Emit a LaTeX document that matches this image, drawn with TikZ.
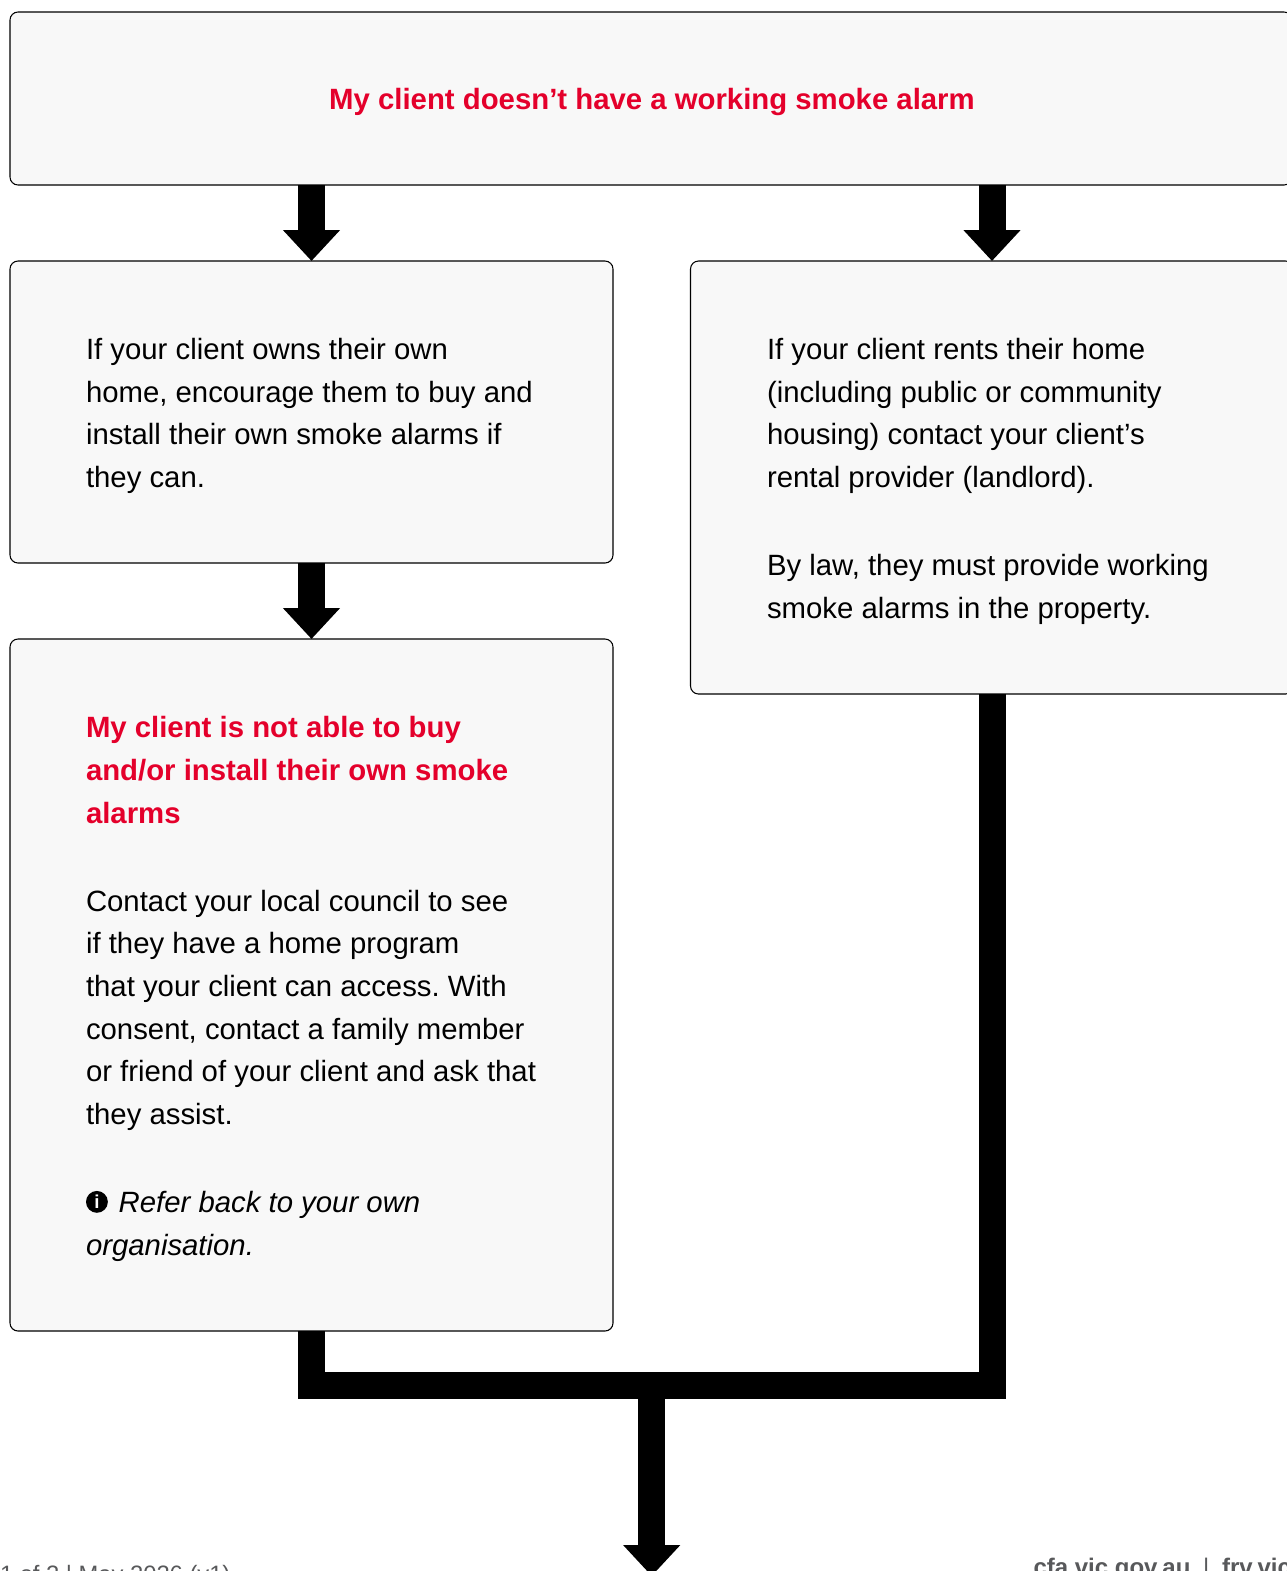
\documentclass[tikz,border=0pt]{standalone}
\usepackage{fontspec}
\setmainfont{Liberation Sans}
\usetikzlibrary{arrows.meta,calc}
\definecolor{cfared}{HTML}{E4002B}
\definecolor{boxfill}{HTML}{F8F8F8}
\definecolor{footgrey}{HTML}{58595B}
\tikzset{
  x=0.75pt,y=-0.75pt,
  flowbox/.style={draw=black,line width=0.8pt,fill=boxfill,rounded corners=6pt,inner sep=0pt,outer sep=0pt,anchor=north west},
  bodytext/.style={inner sep=0pt,outer sep=0pt,anchor=north west,align=left,font=\fontsize{22}{32}\selectfont\frenchspacing},
  fatline/.style={line width=20.25pt,draw=black},
  fatarrow/.style={fatline,-{Triangle[length=23.25pt,width=41.5pt]}},
  foot/.style={inner sep=0pt,outer sep=0pt,text=footgrey,font=\fontsize{17.8}{22}\selectfont},
}
\newcommand{\infodot}{\tikz[baseline=-0.36em,x=1pt,y=1pt]{\fill[black] (0,0) circle (8.2pt);\node[text=white,inner sep=0pt,anchor=center,font=\fontsize{14}{14}\selectfont\bfseries] at (0,0) {i};}}
\begin{document}
\begin{tikzpicture}
\clip (0,0) rectangle (1287,1571);
\fill[white] (0,0) rectangle (1287,1571);
\node[flowbox,minimum width=961.5pt,minimum height=129.75pt] (top) at (10,12) {};
\node[flowbox,minimum width=452.25pt,minimum height=226.5pt] (own) at (10,261) {};
\node[flowbox,minimum width=452.25pt,minimum height=324.75pt] (rent) at (690.5,261) {};
\node[flowbox,minimum width=452.25pt,minimum height=519pt] (unable) at (10,639) {};
\node[inner sep=0pt,text=cfared,font=\fontsize{22}{32}\selectfont\bfseries] (toptext) at (652,102) {My client doesn’t have a working smoke alarm};
\node[bodytext] (owntext) at (86,338.3) {If your client owns their own\\home, encourage them to buy and\\install their own smoke alarms if\\they can.};
\node[bodytext] (renttext) at (767,338.3) {If your client rents their home\\(including public or community\\housing) contact your client’s\\rental provider (landlord).\\[34pt]By law, they must provide working\\smoke alarms in the property.};
\node[bodytext] (unabletext) at (86,716.5) {\textcolor{cfared}{\bfseries My client is not able to buy}\\\textcolor{cfared}{\bfseries and/or install their own smoke}\\\textcolor{cfared}{\bfseries alarms}\\[34pt]Contact your local council to see\\if they have a home program\\that your client can access. With\\consent, contact a family member\\or friend of your client and ask that\\they assist.\\[34pt]\infodot\hspace{8.1pt}\textit{Refer back to your own}\\\textit{organisation.}};
\coordinate (leftturn) at (311.5,1385.5);
\coordinate (rightturn) at (992,1385.5);
\coordinate (junction) at (651.7,1385.5);
\coordinate (exit) at (651.7,1576);
\draw[fatarrow] (own.north |- top.south) -- (own.north);
\draw[fatarrow] (rent.north |- top.south) -- (rent.north);
\draw[fatarrow] (own.south) -- (unable.north);
\draw[fatline,line join=miter] (unable.south) -- (leftturn) -- (rightturn) -- (rent.south);
\draw[fatarrow] (junction) -- (exit);
\node[foot,anchor=base west] (pagefoot) at (0,1582) {1 of 2 | May 2026 (v1)};
\node[foot,anchor=base west,font=\fontsize{18}{22}\selectfont\bfseries] (webfoot) at (1033.5,1575) {cfa.vic.gov.au\hspace{9.5pt}{\mdseries|}\hspace{9.5pt}frv.vic.gov.au};
\end{tikzpicture}
\end{document}
